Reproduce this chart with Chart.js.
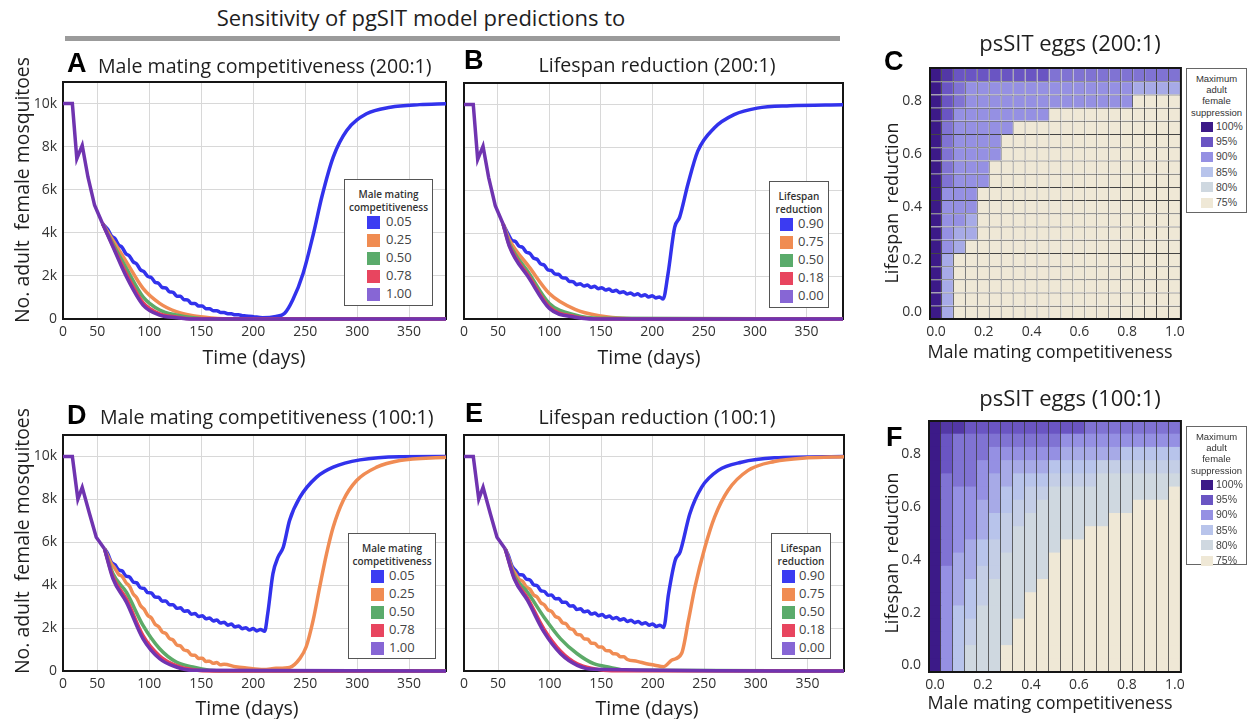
<!DOCTYPE html>
<html>
<head>
<meta charset="utf-8">
<title>pgSIT sensitivity</title>
<script src="https://cdn.jsdelivr.net/npm/chart.js@4.4.1/dist/chart.umd.min.js"></script>
<style>
  html, body { margin: 0; padding: 0; background: #fff; }
  body { position: relative; width: 1247px; height: 719px; overflow: hidden;
         font-family: 'Open Sans', sans-serif; color: #1e1e1e; }
  .t { position: absolute; white-space: pre; line-height: 1; }
  canvas { position: absolute; }
  .legend { position: absolute; border: 1px solid #555; background: #fff; box-sizing: border-box; }
  .legend div { position: absolute; white-space: nowrap; line-height: 1; }
</style>
</head>
<body>
<div style="position:absolute;left:65px;top:36px;width:775px;height:5px;background:#9b9b9b"></div>
<script>
/* ---------- axis ticks ---------- */
const xMin = 17, xMax = 385.5;
const xTicks = [17, 50, 100, 150, 200, 250, 300, 350];
const xTickLabels = ['0', '50', '100', '150', '200', '250', '300', '350'];
const yTicks = [0, 2000, 4000, 6000, 8000, 10000];
const yTickLabels = ['0', '2k', '4k', '6k', '8k', '10k'];

/* ---------- shared start of every run (all lines overlap here) ---------- */
const start200Days = [17, 26, 30.3, 35.5, 41, 47.4, 55];
const start200Vals = [10000, 10000, 7440, 8056, 6590, 5278, 4430];
const start100Days = [17, 26, 31.3, 35.5, 42.6, 49, 57];
const start100Vals = [10000, 10000, 8010, 8560, 7315, 6230, 5690];

/* ---------- A: male mating competitiveness (200:1) ---------- */
const aBlueDays = [55, 60, 63.5, 67, 70.5, 74, 77.5, 81, 84.5, 88, 91.5, 95, 98.5, 102, 105.5, 109, 112.5, 116, 119.5, 123, 126.5, 130, 133.5, 137, 140.5, 144, 147.5, 151, 154.5, 158, 161.5, 165, 168.5, 172, 175.5, 179, 182.5, 186, 189.5, 193, 200, 209, 222, 230, 238, 248, 258, 266, 277, 290, 309, 332, 360, 385.5];
const aBlueVals = [4430, 4160, 3863, 3732, 3444, 3317, 3030, 2921, 2655, 2549, 2283, 2192, 1977, 1922, 1707, 1653, 1462, 1440, 1259, 1237, 1058, 1054, 891, 887, 723, 722, 601, 600, 480, 474, 388, 388, 307, 302, 244, 241, 198, 192, 155, 144, 110, 60, 120, 250, 880, 2116, 3968, 5663, 7515, 8750, 9524, 9830, 9950, 9990];
const aOrangeDays = [55, 65, 78, 94, 110, 126, 142, 160, 180, 385.5];
const aOrangeVals = [4430, 3660, 2650, 1420, 727, 340, 150, 50, 0, 0];
const aGreenDays = [55, 65, 78, 94, 110, 126, 142, 160, 385.5];
const aGreenVals = [4430, 3500, 2347, 1030, 417, 185, 60, 0, 0];
const aRedDays = [55, 65, 78, 94, 110, 126, 142, 385.5];
const aRedVals = [4430, 3400, 2100, 760, 240, 90, 10, 0];
const aPurpleDays = [55, 65, 78, 94, 110, 126, 142, 385.5];
const aPurpleVals = [4430, 3350, 1960, 648, 185, 60, 0, 0];

/* ---------- B: lifespan reduction (200:1) ---------- */
const bBlueDays = [55, 60, 63.5, 67, 70.5, 74, 77.5, 81, 84.5, 88, 91.5, 95, 98.5, 102, 105.5, 109, 112.5, 116, 119.5, 123, 126.5, 130, 133.5, 137, 140.5, 144, 147.5, 151, 154.5, 158, 161.5, 165, 168.5, 172, 175.5, 179, 182.5, 186, 189.5, 193, 196.5, 200, 203.5, 207, 210.6, 215.4, 221.8, 226.6, 234.7, 244.3, 260.3, 279.6, 302, 334, 385.5];
const bBlueVals = [4430, 3955, 3671, 3613, 3395, 3337, 3118, 3060, 2842, 2784, 2566, 2507, 2289, 2260, 2094, 2087, 1920, 1913, 1746, 1740, 1597, 1646, 1535, 1584, 1474, 1523, 1412, 1460, 1349, 1398, 1288, 1337, 1226, 1275, 1164, 1217, 1115, 1173, 1071, 1129, 1027, 1085, 981, 1031, 930, 2116, 4273, 4736, 6280, 7825, 8904, 9524, 9830, 9940, 9990];
const bOrangeDays = [55, 61, 80.5, 100, 125, 150, 175, 200, 385.5];
const bOrangeVals = [4430, 3700, 2420, 1190, 450, 140, 20, 0, 0];
const bGreenDays = [55, 61, 80.5, 100, 125, 150, 385.5];
const bGreenVals = [4430, 3550, 2116, 727, 185, 30, 0];
const bRedDays = [55, 61, 80.5, 100, 125, 150, 385.5];
const bRedVals = [4430, 3450, 1960, 560, 110, 0, 0];
const bPurpleDays = [55, 61, 80.5, 100, 125, 145, 385.5];
const bPurpleVals = [4430, 3400, 1884, 495, 80, 0, 0];

/* ---------- D: male mating competitiveness (100:1) ---------- */
const dBlueDays = [57, 60, 63.5, 67, 70.5, 74, 77.5, 81, 84.5, 88, 91.5, 95, 98.5, 102, 105.5, 109, 112.5, 116, 119.5, 123, 126.5, 130, 133.5, 137, 140.5, 144, 147.5, 151, 154.5, 158, 161.5, 165, 168.5, 172, 175.5, 179, 182.5, 186, 189.5, 193, 196.5, 200, 203.5, 207, 211, 214, 219, 224, 229, 235, 245, 261, 277, 302.7, 341, 385.5];
const dBlueVals = [5690, 5472, 5076, 4952, 4717, 4661, 4426, 4379, 4153, 4107, 3882, 3846, 3653, 3640, 3447, 3434, 3255, 3261, 3087, 3093, 2921, 2943, 2785, 2808, 2650, 2681, 2539, 2578, 2436, 2475, 2335, 2374, 2234, 2273, 2137, 2186, 2054, 2102, 1971, 2019, 1906, 1978, 1869, 1940, 1850, 2680, 4540, 5315, 5780, 7020, 8100, 9035, 9500, 9840, 9990, 10000];
const dOrangeDays = [57, 60, 63.5, 67, 70.5, 74, 77.5, 81, 84.5, 88, 91.5, 95, 98.5, 102, 105.5, 109, 112.5, 116, 119.5, 123, 126.5, 130, 133.5, 137, 140.5, 144, 147.5, 151, 154.5, 158, 161.5, 165, 168.5, 172, 183, 193.5, 210, 222, 235, 245, 251, 257.7, 264, 270.6, 277, 286.6, 299.5, 318.8, 341, 385.5];
const dOrangeVals = [5690, 5375, 5008, 4781, 4510, 4399, 4128, 3948, 3596, 3405, 3054, 2882, 2598, 2474, 2190, 2066, 1818, 1745, 1513, 1440, 1213, 1175, 977, 939, 741, 731, 583, 595, 448, 460, 356, 392, 288, 310, 200, 140, 70, 125, 170, 590, 1130, 2370, 3920, 5470, 6710, 7950, 8880, 9500, 9810, 9965];
const dGreenDays = [57, 65, 78, 94, 110, 126, 142, 158, 180, 385.5];
const dGreenVals = [5690, 4540, 3670, 2125, 1037, 418, 186, 40, 0, 0];
const dRedDays = [57, 65, 78, 94, 110, 126, 142, 160, 385.5];
const dRedVals = [5690, 4400, 3350, 1650, 700, 250, 60, 0, 0];
const dPurpleDays = [57, 65, 78, 94, 110, 126, 142, 385.5];
const dPurpleVals = [5690, 4310, 3210, 1500, 572, 186, 30, 0];

/* ---------- E: lifespan reduction (100:1) ---------- */
const eBlueDays = [57, 60, 63.5, 67, 70.5, 74, 77.5, 81, 84.5, 88, 91.5, 95, 98.5, 102, 105.5, 109, 112.5, 116, 119.5, 123, 126.5, 130, 133.5, 137, 140.5, 144, 147.5, 151, 154.5, 158, 161.5, 165, 168.5, 172, 175.5, 179, 182.5, 186, 189.5, 193, 196.5, 200, 203.5, 207, 210.6, 215.4, 221.8, 226.6, 236, 247.5, 263.6, 286, 318, 385.5];
const eBlueVals = [5690, 5387, 4891, 4686, 4490, 4474, 4279, 4242, 4016, 3971, 3745, 3706, 3533, 3540, 3368, 3375, 3201, 3207, 3032, 3037, 2863, 2898, 2757, 2795, 2654, 2698, 2575, 2631, 2508, 2564, 2441, 2498, 2376, 2433, 2311, 2371, 2252, 2313, 2193, 2254, 2134, 2195, 2075, 2136, 2030, 3610, 5160, 5550, 7330, 8570, 9350, 9730, 9935, 10000];
const eOrangeDays = [57, 60, 63.5, 67, 70.5, 74, 77.5, 81, 84.5, 88, 91.5, 95, 98.5, 102, 105.5, 109, 112.5, 116, 119.5, 123, 126.5, 130, 133.5, 137, 140.5, 144, 147.5, 151, 154.5, 158, 161.5, 165, 168.5, 172, 175.5, 185, 194, 202, 210.6, 218.6, 228, 234.7, 241, 250.7, 260, 273, 292.5, 318, 350, 385.5];
const eOrangeVals = [5690, 5297, 4800, 4524, 4268, 4172, 3915, 3813, 3548, 3444, 3179, 3078, 2847, 2775, 2544, 2473, 2250, 2194, 1979, 1923, 1707, 1682, 1500, 1478, 1296, 1281, 1118, 1114, 950, 947, 805, 797, 669, 661, 536, 450, 340, 270, 200, 510, 820, 2370, 3920, 5780, 7175, 8415, 9350, 9765, 9935, 9990];
const eGreenDays = [57, 65.7, 78.6, 94.6, 110.7, 126.8, 142.8, 158.9, 175, 385.5];
const eGreenVals = [5690, 4450, 3670, 2510, 1500, 805, 340, 170, 30, 0];
const eRedDays = [57, 65.7, 78.6, 94.6, 110.7, 126.8, 142.8, 160, 385.5];
const eRedVals = [5690, 4350, 3400, 1950, 920, 330, 110, 10, 0];
const ePurpleDays = [57, 65.7, 78.6, 94.6, 110.7, 126.8, 142.8, 385.5];
const ePurpleVals = [5690, 4300, 3290, 1810, 805, 265, 80, 0];

/* ---------- legends ---------- */
const mcLabels = ['0.05', '0.25', '0.50', '0.78', '1.00'];
const lsLabels = ['0.90', '0.75', '0.50', '0.18', '0.00'];
const lineColors = ['rgb(50,50,236)', 'rgb(240,140,84)', 'rgb(92,170,104)', 'rgb(230,62,92)', 'rgb(112,52,176)'];
const swatchColors = ['#3b3bf2', '#f08c52', '#5aab6b', '#e8455f', '#8766d5'];

/* ---------- heatmaps ---------- */
const mcValues = [0, 0.05, 0.1, 0.15, 0.2, 0.25, 0.3, 0.35, 0.4, 0.45, 0.5, 0.55, 0.6, 0.65, 0.7, 0.75, 0.8, 0.85, 0.9, 0.95, 1];
const lsValues = [0, 0.05, 0.1, 0.15, 0.2, 0.25, 0.3, 0.35, 0.4, 0.45, 0.5, 0.55, 0.6, 0.65, 0.7, 0.75, 0.8, 0.85, 0.9];
const mcTickLabels = ['0.0', '0.2', '0.4', '0.6', '0.8', '1.0'];
const lsTicks = [0, 0.2, 0.4, 0.6, 0.8];
const lsTickLabels = ['0.0', '0.2', '0.4', '0.6', '0.8'];
// codes index into suppLevels
const suppLevels = [100, 97.5, 95, 92.5, 90, 87.5, 85, 82.5, 80, 75];
const legendLevels = [100, 95, 90, 85, 80, 75];
const legendLabels = ['100%', '95%', '90%', '85%', '80%', '75%'];
const legendColors = ['#3c1a88', '#6a55c3', '#9590e3', '#b8c4eb', '#cfd8e0', '#efe8d6'];
// rows from lifespan 0.90 (top) down to 0.00
const heatC = [
  '01' + '22222222' + '33333333333',
  '023' + '44444444444444' + '5555',
  '023' + '44444444444444' + '9999',
  '024' + '4444444' + '99999999999',
  '034' + '4444' + '99999999999999',
  '034' + '444' + '999999999999999',
  '034' + '444' + '999999999999999',
  '034' + '44' + '9999999999999999',
  '034' + '44' + '9999999999999999',
  '044' + '4' + '99999999999999999',
  '044' + '4' + '99999999999999999',
  '044' + '5' + '99999999999999999',
  '045' + '5' + '99999999999999999',
  '045' + '999999999999999999',
  '05' + '9999999999999999999',
  '05' + '9999999999999999999',
  '05' + '9999999999999999999',
  '05' + '9999999999999999999',
  '05' + '9999999999999999999'
];
const heatF = [
  '011' + '2222222222' + '33333333',
  '023' + '33333333' + '4444444444',
  '0233' + '3' + '444444' + '55555' + '66666',
  '023344' + '5555' + '6666' + '7777777',
  '0333455' + '666' + '7777' + '8888888',
  '0344456677' + '8888888888' + '9',
  '034455677' + '88888888' + '9999',
  '03445677' + '8888888' + '999999',
  '0344567' + '888888' + '99999999',
  '0345677' + '8888' + '9999999999',
  '035567' + '8888' + '99999999999',
  '045577' + '8888' + '99999999999',
  '04567' + '8888' + '999999999999',
  '04567' + '888' + '9999999999999',
  '04668' + '888' + '9999999999999',
  '0467888' + '99999999999999',
  '0467888' + '99999999999999',
  '046888' + '999999999999999',
  '046888' + '999999999999999'
];

/* ---------- helpers ---------- */
function put(str, x, y, size, opt = {}) {
  const d = document.createElement('div');
  d.className = 't';
  d.textContent = str;
  d.style.left = x + 'px';
  d.style.top = y + 'px';
  d.style.fontSize = size + 'px';
  if (opt.bold) d.style.fontWeight = opt.bold;
  if (opt.family) d.style.fontFamily = opt.family;
  if (opt.color) d.style.color = opt.color;
  const tx = opt.left ? '0' : '-50%';
  d.style.transform = `translate(${tx}, -50%)` + (opt.rotate ? ' rotate(-90deg)' : '');
  document.body.appendChild(d);
}

function pts(days, vals) {
  return days.map((x, i) => ({ x, y: vals[i] }));
}

function hexRgb(h) {
  return [1, 3, 5].map(i => parseInt(h.slice(i, i + 2), 16));
}
function levelColor(lv) {
  for (let i = 0; i < legendLevels.length - 1; i++) {
    const hi = legendLevels[i], lo = legendLevels[i + 1];
    if (lv <= hi && lv >= lo) {
      const f = (hi - lv) / (hi - lo);
      const a = hexRgb(legendColors[i]), b = hexRgb(legendColors[i + 1]);
      return `rgb(${a.map((c, k) => Math.round(c + (b[k] - c) * f)).join(',')})`;
    }
  }
  return legendColors[legendColors.length - 1];
}

function framePlugin(hook) {
  return {
    id: 'frame_' + hook,
    [hook](chart) {
      const { ctx, chartArea: a } = chart;
      ctx.save();
      ctx.strokeStyle = '#151515';
      ctx.lineWidth = 2;
      ctx.strokeRect(a.left, a.top, a.right - a.left, a.bottom - a.top);
      ctx.restore();
    }
  };
}

function makeCanvas(box) {
  const cv = document.createElement('canvas');
  cv.width = box.w; cv.height = box.h;
  cv.style.left = box.l + 'px'; cv.style.top = box.t + 'px';
  cv.style.width = box.w + 'px'; cv.style.height = box.h + 'px';
  document.body.appendChild(cv);
  return cv;
}

const tickFont = { family: 'Open Sans', size: 14 };

function lineChart(box, area, start, series, showY) {
  const cv = makeCanvas(box);
  const datasets = series.map((s, i) => ({
    data: s,
    borderColor: lineColors[i],
    borderWidth: 3.5,
    pointRadius: 0,
    cubicInterpolationMode: 'monotone',
    clip: 3,
    order: 4 - i
  }));
  // overlapping start, straight segments, on top
  datasets.push({
    data: start,
    borderColor: lineColors[4],
    borderWidth: 3.5,
    pointRadius: 0,
    tension: 0,
    clip: 3,
    order: -1
  });
  new Chart(cv, {
    type: 'line',
    data: { datasets },
    options: {
      responsive: false,
      animation: false,
      events: [],
      parsing: false,
      plugins: { legend: { display: false }, tooltip: { enabled: false } },
      layout: { padding: { top: area.t - box.t, right: box.l + box.w - area.r, left: 0, bottom: 0 } },
      scales: {
        x: {
          type: 'linear', min: xMin, max: xMax,
          afterFit: s => { s.height = box.t + box.h - area.b; },
          afterBuildTicks: s => { s.ticks = xTicks.map(v => ({ value: v })); },
          ticks: { callback: (v, i) => xTickLabels[i], font: tickFont, color: '#333', padding: 5, maxRotation: 0, autoSkip: false },
          grid: { color: '#d8d8d8', lineWidth: 1, drawTicks: false },
          border: { display: false }
        },
        y: {
          type: 'linear', min: 0, max: 11000,
          afterFit: s => { s.width = area.l - box.l; },
          afterBuildTicks: s => { s.ticks = yTicks.map(v => ({ value: v })); },
          ticks: { display: showY, callback: (v, i) => yTickLabels[i], font: tickFont, color: '#333', padding: 6 },
          grid: { color: '#d8d8d8', lineWidth: 1, drawTicks: false },
          border: { display: false }
        }
      }
    },
    plugins: [framePlugin('beforeDatasetsDraw')]
  });
}

function heatChart(box, area, rows, fullGrid) {
  const cv = makeCanvas(box);
  const datasets = lsValues.map((ls, r) => ({
    data: mcValues.map(() => [ls - 0.025, ls + 0.025]),
    backgroundColor: rows[rows.length - 1 - r].split('').map(ch => levelColor(suppLevels[+ch])),
    borderColor: 'rgba(35,35,35,0.85)',
    borderWidth: fullGrid ? { top: 1, right: 1, left: 0, bottom: 0 } : 0,
    borderSkipped: false,
    barPercentage: 1,
    categoryPercentage: 1,
    grouped: false,
    inflateAmount: fullGrid ? 0 : 0.5
  }));
  new Chart(cv, {
    type: 'bar',
    data: { labels: mcValues.map(String), datasets },
    options: {
      responsive: false,
      animation: false,
      events: [],
      plugins: { legend: { display: false }, tooltip: { enabled: false } },
      layout: { padding: { top: area.t - box.t, right: box.l + box.w - area.r, left: 0, bottom: 0 } },
      scales: {
        x: {
          type: 'category',
          afterFit: s => { s.height = box.t + box.h - area.b; },
          ticks: { callback: (v, i) => (i % 4 === 0 ? mcTickLabels[i / 4] : ''), font: tickFont, color: '#333', padding: 5, maxRotation: 0, autoSkip: false },
          // column separators for the lower map (its cells have no horizontal lines)
          grid: { display: !fullGrid, offset: true, z: 1, color: 'rgba(55,55,55,0.75)', lineWidth: 1, drawTicks: false },
          border: { display: false }
        },
        y: {
          type: 'linear', min: -0.025, max: 0.925,
          afterFit: s => { s.width = area.l - box.l; },
          afterBuildTicks: s => { s.ticks = lsTicks.map(v => ({ value: v })); },
          ticks: { callback: (v, i) => lsTickLabels[i], font: tickFont, color: '#333', padding: 8 },
          grid: { display: false, drawTicks: false },
          border: { display: false }
        }
      }
    },
    plugins: [framePlugin('afterDraw')]
  });
}

function lineLegend(x, y, w, h, title, labels, swX, txX) {
  const box = document.createElement('div');
  box.className = 'legend';
  Object.assign(box.style, { left: x + 'px', top: y + 'px', width: w + 'px', height: h + 'px' });
  title.forEach((ln, i) => {
    const d = document.createElement('div');
    d.textContent = ln;
    Object.assign(d.style, { left: '0', width: '100%', textAlign: 'center', top: (9 + i * 13) + 'px',
      fontSize: '10px', fontWeight: '600', color: '#333' });
    box.appendChild(d);
  });
  labels.forEach((lb, i) => {
    const cy = 43.5 + i * 17.9;
    const s = document.createElement('div');
    Object.assign(s.style, { left: swX + 'px', top: (cy - 7.5) + 'px', width: '13px', height: '13px', background: swatchColors[i] });
    box.appendChild(s);
    const d = document.createElement('div');
    d.textContent = lb;
    Object.assign(d.style, { left: txX + 'px', top: (cy - 8.5) + 'px', fontSize: '13px', color: '#444' });
    box.appendChild(d);
  });
  document.body.appendChild(box);
}

function heatLegend(x, y, w, h) {
  const box = document.createElement('div');
  box.className = 'legend';
  Object.assign(box.style, { left: x + 'px', top: y + 'px', width: w + 'px', height: h + 'px', borderColor: '#666' });
  ['Maximum', 'adult', 'female', 'suppression'].forEach((ln, i) => {
    const d = document.createElement('div');
    d.textContent = ln;
    Object.assign(d.style, { left: '0', width: '100%', textAlign: 'center', top: (4.5 + i * 11.4) + 'px',
      fontSize: '9.5px', fontFamily: "'Liberation Sans', Arial, sans-serif", color: '#333' });
    box.appendChild(d);
  });
  legendLabels.forEach((lb, i) => {
    const cy = 57.5 + i * 15.2;
    const s = document.createElement('div');
    Object.assign(s.style, { left: '14px', top: (cy - 5) + 'px', width: '12px', height: '10px', background: legendColors[i] });
    box.appendChild(s);
    const d = document.createElement('div');
    d.textContent = lb;
    Object.assign(d.style, { left: '29px', top: (cy - 5.5) + 'px', fontSize: '10.5px',
      fontFamily: "'Liberation Sans', Arial, sans-serif", color: '#444' });
    box.appendChild(d);
  });
  document.body.appendChild(box);
}

/* ---------- charts ---------- */
lineChart({ l: 0, t: 60, w: 455, h: 285 }, { l: 63, t: 82, r: 446, b: 319 }, pts(start200Days, start200Vals), [
  pts(aBlueDays, aBlueVals), pts(aOrangeDays, aOrangeVals), pts(aGreenDays, aGreenVals),
  pts(aRedDays, aRedVals), pts(aPurpleDays, aPurpleVals)
], true);
lineChart({ l: 455, t: 60, w: 395, h: 285 }, { l: 461, t: 83, r: 843, b: 319 }, pts(start200Days, start200Vals), [
  pts(bBlueDays, bBlueVals), pts(bOrangeDays, bOrangeVals), pts(bGreenDays, bGreenVals),
  pts(bRedDays, bRedVals), pts(bPurpleDays, bPurpleVals)
], false);
lineChart({ l: 0, t: 413, w: 455, h: 285 }, { l: 63, t: 435, r: 446, b: 671 }, pts(start100Days, start100Vals), [
  pts(dBlueDays, dBlueVals), pts(dOrangeDays, dOrangeVals), pts(dGreenDays, dGreenVals),
  pts(dRedDays, dRedVals), pts(dPurpleDays, dPurpleVals)
], true);
lineChart({ l: 455, t: 413, w: 395, h: 285 }, { l: 462, t: 435, r: 844, b: 671 }, pts(start100Days, start100Vals), [
  pts(eBlueDays, eBlueVals), pts(eOrangeDays, eOrangeVals), pts(eGreenDays, eGreenVals),
  pts(eRedDays, eRedVals), pts(ePurpleDays, ePurpleVals)
], false);

heatChart({ l: 870, t: 46, w: 320, h: 314 }, { l: 930, t: 68, r: 1181, b: 319 }, heatC, true);
heatChart({ l: 870, t: 398, w: 320, h: 314 }, { l: 929, t: 421, r: 1181, b: 672 }, heatF, false);

/* ---------- text ---------- */
const letterOpt = { left: true, bold: 'bold', family: "'Liberation Sans', Arial, sans-serif", color: '#000' };
put('Sensitivity of pgSIT model predictions to', 421, 17, 22);

put('A', 67, 63, 27, letterOpt);
put('Male mating competitiveness (200:1)', 98, 66, 19.6, { left: true });
put('B', 464, 60, 27, letterOpt);
put('Lifespan reduction (200:1)', 657, 65, 19.6);
put('C', 884, 61, 27, letterOpt);
put('psSIT eggs (200:1)', 1070, 42, 22);
put('D', 67, 415, 27, letterOpt);
put('Male mating competitiveness (100:1)', 100, 417, 19.6, { left: true });
put('E', 465, 413, 27, letterOpt);
put('Lifespan reduction (100:1)', 657, 417, 19.6);
put('F', 886, 437, 27, letterOpt);
put('psSIT eggs (100:1)', 1070, 397, 22);

put('No. adult  female mosquitoes', 22, 190, 19.4, { rotate: true });
put('No. adult  female mosquitoes', 22, 541, 19.4, { rotate: true });
put('Time (days)', 254, 357, 19.5);
put('Time (days)', 649, 357, 19.5);
put('Time (days)', 247, 708, 19.5);
put('Time (days)', 647, 708, 19.5);

put('Male mating competitiveness', 1050, 351, 18);
put('Lifespan  reduction', 891, 203, 18, { rotate: true });
put('Male mating competitiveness', 1050, 702, 18);
put('Lifespan  reduction', 891, 553, 18, { rotate: true });

lineLegend(344, 179, 89, 127, ['Male mating', 'competitiveness'], mcLabels, 22, 41);
lineLegend(769, 181, 60, 127, ['Lifespan', 'reduction'], lsLabels, 10, 28);
lineLegend(348, 533, 88, 126, ['Male mating', 'competitiveness'], mcLabels, 22, 40);
lineLegend(771, 533, 60, 126, ['Lifespan', 'reduction'], lsLabels, 10, 27);

heatLegend(1186, 68, 61, 145);
heatLegend(1186, 426, 61, 139);
</script>
</body>
</html>
